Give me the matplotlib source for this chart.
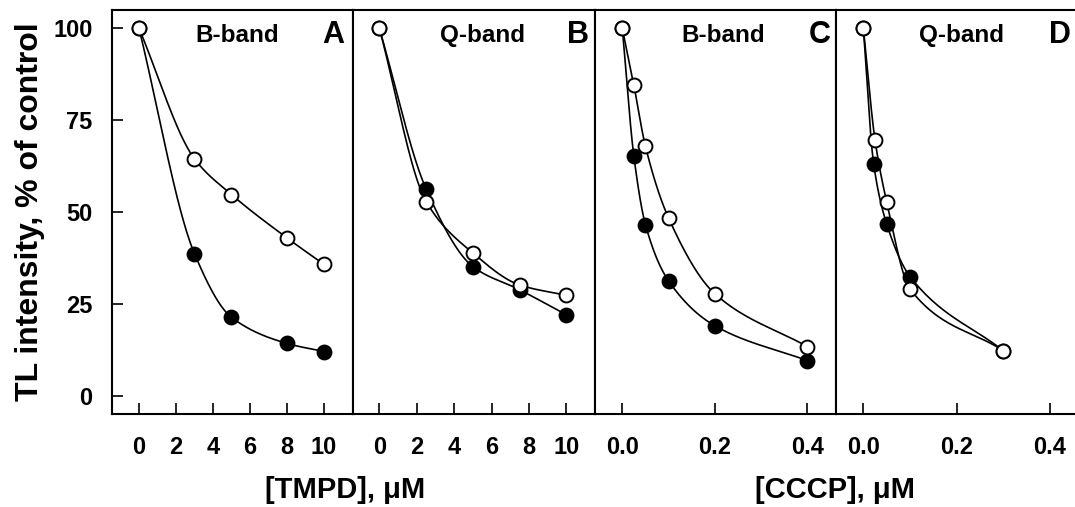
import numpy as np
import matplotlib
matplotlib.use("Agg")
import matplotlib.pyplot as plt

plt.rcParams['font.family'] = ['Liberation Sans', 'DejaVu Sans']
plt.rcParams['font.weight'] = 'bold'

# ---- data ----
tmpd_x_A = [0, 3, 5, 8, 10]
A_open = [100, 64.5, 54.8, 43.0, 35.8]
A_filled = [100, 38.7, 21.4, 14.3, 12.1]

tmpd_x_B = [0, 2.5, 5, 7.5, 10]
B_open = [100, 52.9, 38.9, 30.2, 27.4]
B_filled = [100, 56.3, 35.2, 28.9, 22.1]

cccp_x_C = [0, 0.025, 0.05, 0.1, 0.2, 0.4]
C_open = [100, 84.5, 67.9, 48.4, 27.8, 13.4]
C_filled = [100, 65.2, 46.6, 31.3, 19.1, 9.6]

cccp_x_D_open = [0, 0.025, 0.05, 0.1, 0.3]
D_open = [100, 69.6, 52.8, 29.1, 12.3]
cccp_x_D_filled = [0, 0.022, 0.05, 0.1, 0.3]
D_filled = [100, 63.2, 46.8, 32.5, 12.3]

band_labels = ["B-band", "Q-band", "B-band", "Q-band"]
panel_letters = ["A", "B", "C", "D"]
tmpd_ticks = [0, 2, 4, 6, 8, 10]
cccp_ticks = [0.0, 0.2, 0.4]
y_ticks = [0, 25, 50, 75, 100]


def pchip(x, y, n=200):
    x = np.asarray(x, float)
    y = np.asarray(y, float)
    h = np.diff(x)
    d = np.diff(y) / h
    m = np.zeros_like(y)
    m[0] = d[0]
    m[-1] = d[-1]
    for k in range(1, len(x) - 1):
        if d[k - 1] * d[k] <= 0:
            m[k] = 0
        else:
            w1 = 2 * h[k] + h[k - 1]
            w2 = h[k] + 2 * h[k - 1]
            m[k] = (w1 + w2) / (w1 / d[k - 1] + w2 / d[k])
    xs, ys = [], []
    for k in range(len(x) - 1):
        t = np.linspace(0, 1, n // (len(x) - 1) + 2)
        h00 = 2 * t**3 - 3 * t**2 + 1
        h10 = t**3 - 2 * t**2 + t
        h01 = -2 * t**3 + 3 * t**2
        h11 = t**3 - t**2
        xs.append(x[k] + t * h[k])
        ys.append(h00 * y[k] + h10 * h[k] * m[k] + h01 * y[k + 1] + h11 * h[k] * m[k + 1])
    return np.concatenate(xs), np.concatenate(ys)


fig = plt.figure(figsize=(10.75, 5.07), dpi=100)
bottom = 1 - 414 / 507
height = (414 - 10) / 507
lefts_px = [112, 353, 595, 835.7]
rights_px = [353, 595, 835.7, 1075]
xlims = [(-1.46, 11.57), (-1.41, 11.53), (-0.059, 0.461), (-0.0593, 0.4536)]

series = [
    (tmpd_x_A, A_open, tmpd_x_A, A_filled),
    (tmpd_x_B, B_open, tmpd_x_B, B_filled),
    (cccp_x_C, C_open, cccp_x_C, C_filled),
    (cccp_x_D_open, D_open, cccp_x_D_filled, D_filled),
]
band_x = [0.519, 0.535, 0.531, 0.527]
letter_x = [0.917, 0.93, 0.934, 0.936]

for i in range(4):
    l = lefts_px[i] / 1075
    w = (rights_px[i] - lefts_px[i]) / 1075
    ax = fig.add_axes([l, bottom, w, height])
    xo, yo, xf, yf = series[i]
    sx, sy = pchip(xf, yf)
    ax.plot(sx, sy, color='black', lw=1.2, zorder=2)
    sx, sy = pchip(xo, yo)
    ax.plot(sx, sy, color='black', lw=1.2, zorder=2)
    ax.plot(xf, yf, 'o', ms=10, mfc='black', mec='black', mew=1.4, zorder=3)
    ax.plot(xo, yo, 'o', ms=10, mfc='white', mec='black', mew=1.4, zorder=4)
    ax.set_xlim(*xlims[i])
    ax.set_ylim(-4.9, 105)
    for s in ax.spines.values():
        s.set_linewidth(1.5)
    if i == 3:
        ax.spines['right'].set_visible(False)
    if i < 2:
        ax.set_xticks(tmpd_ticks)
        ax.set_xticklabels([str(t) for t in tmpd_ticks])
    else:
        ax.set_xticks(cccp_ticks)
        ax.set_xticklabels([f"{t:.1f}" for t in cccp_ticks])
    ax.tick_params(axis='x', direction='in', length=8, width=1.2, pad=16,
                   labelsize=17, top=False)
    if i == 0:
        ax.set_yticks(y_ticks)
        ax.set_yticklabels([str(t) for t in y_ticks])
        ax.tick_params(axis='y', direction='in', length=8, width=1.2, pad=14,
                       labelsize=17, right=False)
        ax.set_ylabel("TL intensity, % of control", fontsize=23, fontweight='bold',
                      labelpad=6)
    else:
        ax.set_yticks([])
    for lab in ax.get_xticklabels() + ax.get_yticklabels():
        lab.set_fontweight('bold')
    ax.text(band_x[i], 0.938, band_labels[i], transform=ax.transAxes,
            ha='center', va='center', fontsize=17.5, fontweight='bold')
    ax.text(letter_x[i], 0.938, panel_letters[i], transform=ax.transAxes,
            ha='center', va='center', fontsize=22, fontweight='bold')

fig.text(345 / 1075, 1 - 490 / 507, "[TMPD], \u03bcM", ha='center', va='center',
         fontsize=21, fontweight='bold')
fig.text(835 / 1075, 1 - 490 / 507, "[CCCP], \u03bcM", ha='center', va='center',
         fontsize=21, fontweight='bold')

fig.savefig("out.png", dpi=100)
